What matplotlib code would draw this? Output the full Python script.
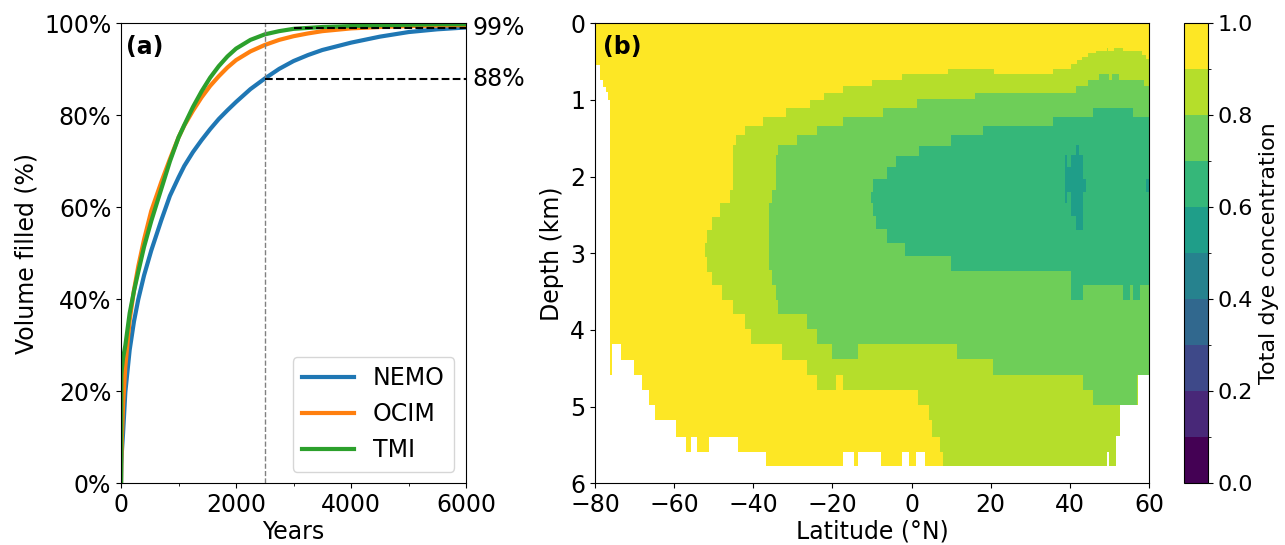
import matplotlib.pyplot as plt
import matplotlib.colors
import matplotlib.cm
import matplotlib.ticker as mticker
import numpy as np

plt.rcParams['font.size'] = 17

# ---- panel (a): volume filled vs years ----
YEARS = [0, 5, 15, 35, 75, 150, 225, 300, 400, 525, 700, 850, 1000, 1100, 1250, 1400, 1550,
         1700, 1850, 2000, 2250, 2500, 2750, 3000, 3250, 3500, 4000, 4500, 5000, 5500, 6000]
NEMO = [0.0, 0.04, 0.07, 0.109, 0.199, 0.29, 0.352, 0.40, 0.452, 0.506, 0.572, 0.625, 0.665,
        0.69, 0.72, 0.746, 0.77, 0.792, 0.811, 0.829, 0.857, 0.88, 0.901, 0.918, 0.931, 0.942,
        0.958, 0.971, 0.981, 0.987, 0.991]
OCIM = [0.0, 0.05, 0.10, 0.17, 0.255, 0.355, 0.42, 0.472, 0.53, 0.592, 0.655, 0.705, 0.752,
        0.778, 0.81, 0.839, 0.864, 0.885, 0.904, 0.92, 0.939, 0.953, 0.964, 0.972, 0.978, 0.983,
        0.989, 0.992, 0.994, 0.995, 0.996]
TMI = [0.0, 0.235, 0.25, 0.272, 0.30, 0.37, 0.418, 0.46, 0.514, 0.57, 0.64, 0.70, 0.752, 0.779,
       0.818, 0.852, 0.882, 0.907, 0.928, 0.945, 0.964, 0.976, 0.983, 0.988, 0.99, 0.992, 0.994,
       0.996, 0.997, 0.998, 0.998]
MARK_YEAR = 2500
MARK_LEVELS = [0.88, 0.99]
MARK_STARTS = [2500, 3000]
MARK_LABELS = ['88%', '99%']

# ---- panel (b): dye concentration sections (step boundaries, depth in km) ----
OCEAN_LAT = [-80, -78.7, -77.9, -77.3, -76.6, -76.2, -75.8, -73.3, -70.1, -68.0, -66.4, -64.8,
             -59.5, -57.0, -55.7, -54.1, -51.2, -43.8, -36.8, -17.4, -14.6, -13.6, -7.6, -2.5,
             -0.6, 1.1, 3.4, 49.3, 50.0, 51.8, 52.7, 57.3, 60]
OCEAN_BOTTOM = [0.54, 0.74, 0.83, 0.89, 1.0, 4.59, 4.18, 4.39, 4.59, 4.78, 4.98, 5.17, 5.39, 5.59,
                5.39, 5.59, 5.39, 5.59, 5.78, 5.59, 5.78, 5.59, 5.78, 5.59, 5.78, 5.59, 5.78, 5.59,
                5.78, 5.38, 4.98, 4.59]

LAT_90 = [-52.2, -51.8, -50.35, -48.4, -47.8, -45.9, -45.05, -44.4, -42.1, -40.65, -37.6, -32.65,
          -31.65, -26.5, -25.6, -23.8, -22.05, -19.2, -17.3, -10.1, -2.5, 1.7, 4.5, 5.1, 7.2, 8.0,
          9.3, 20.8, 35.8, 40.3, 41.7, 43.2, 44.7, 46.6, 49.3, 49.7, 50.0, 51.2, 51.8, 52.7, 53.5,
          57.3, 58.2, 59.25, 60]
TOP_90 = [2.86, 2.70, 2.52, 2.35, 2.35, 2.17, 1.59, 1.46, 1.34, 1.34, 1.22, 1.22, 1.11, 1.11, 1.0,
          1.0, 0.905, 0.905, 0.82, 0.74, 0.66, 0.66, 0.66, 0.66, 0.66, 0.66, 0.60, 0.66, 0.60, 0.535,
          0.48, 0.435, 0.39, 0.36, 0.325, 0.36, 0.36, 0.325, 0.325, 0.325, 0.36, 0.36, 0.41, 0.46]
BOT_90 = [3.05, 3.24, 3.41, 3.41, 3.61, 3.61, 3.79, 3.79, 3.99, 4.18, 4.18, 4.39, 4.39, 4.59, 4.59,
          4.78, 4.78, 4.59, 4.78, 4.78, 4.78, 4.98, 5.17, 5.39, 5.59, 5.78, 5.78, 5.78, 5.78, 5.78,
          5.78, 5.78, 5.78, 5.78, 5.59, 5.59, 5.78, 5.78, 5.38, 4.98, 4.98, 4.59, 4.59, 4.59]

LAT_80 = [-35.94, -35.2, -34.3, -33.67, -29.0, -26.5, -23.9, -20.2, -17.25, -13.6, -7.14, 1.3,
          11.4, 16.0, 20.66, 41.56, 43.25, 44.7, 45.8, 47.45, 50.0, 50.65, 52.5, 57.1, 58.74, 60]
TOP_80 = [2.35, 2.17, 1.72, 1.59, 1.46, 1.46, 1.34, 1.34, 1.22, 1.22, 1.11, 0.99, 0.99, 0.905,
          0.905, 0.82, 0.82, 0.74, 0.74, 0.66, 0.74, 0.66, 0.74, 0.74, 0.82]
BOT_80 = [3.22, 3.41, 3.61, 3.79, 3.79, 3.99, 4.18, 4.38, 4.38, 4.18, 4.18, 4.18, 4.38, 4.38,
          4.59, 4.59, 4.78, 4.78, 4.98, 4.98, 4.98, 4.98, 4.98, 4.59, 4.59]

LAT_70 = [-10.25, -9.66, -8.99, -6.3, -3.93, -1.7, 1.97, 9.97, 18.1, 35.8, 40.2, 43.25, 45.9,
          53.5, 55.2, 56.0, 57.7, 60]
TOP_70 = [2.196, 2.035, 2.035, 1.87, 1.727, 1.727, 1.597, 1.457, 1.34, 1.218, 1.218, 1.218,
          1.109, 1.109, 1.109, 1.218, 1.218]
BOT_70 = [2.34, 2.513, 2.687, 2.86, 2.86, 3.04, 3.04, 3.227, 3.227, 3.227, 3.61, 3.41, 3.41,
          3.61, 3.41, 3.61, 3.41]

LAT_60A = [38.8, 39.4, 40.3, 41.56, 42.4, 43.25, 44.0]
TOP_60A = [1.72, 1.87, 1.72, 1.59, 1.72, 2.035]
BOT_60A = [2.34, 2.20, 2.51, 2.69, 2.69, 2.196]
LAT_60B = [59.25, 60]
TOP_60B = [2.035]
BOT_60B = [2.196]

LEVELS = np.linspace(0, 1, 11)
COLORS = plt.get_cmap('viridis')(np.linspace(0, 1, 10))
CMAP = matplotlib.colors.ListedColormap(COLORS)
NORM = matplotlib.colors.BoundaryNorm(LEVELS, CMAP.N)


def stepPolygon(Lat_Edges, Top, Bottom):
    xs = np.repeat(np.asarray(Lat_Edges, dtype=float), 2)[1:-1]
    top = np.repeat(np.asarray(Top, dtype=float), 2)
    bot = np.repeat(np.asarray(Bottom, dtype=float), 2)
    return np.concatenate([xs, xs[::-1]]), np.concatenate([top, bot[::-1]])


def fillRegion(Ax, Lat_Edges, Top, Bottom, Value):
    xs, ys = stepPolygon(Lat_Edges, Top, Bottom)
    Ax.fill(xs, ys, color=CMAP(NORM(Value)), linewidth=0)


fig = plt.figure(figsize=(12.85, 5.45), dpi=100)
ax1 = fig.add_axes([0.0942, 0.1132, 0.2685, 0.8440])
ax2 = fig.add_axes([0.4630, 0.1132, 0.4311, 0.8440])
cax = fig.add_axes([0.9214, 0.1132, 0.0187, 0.8440])

# panel (a)
ax1.plot(YEARS, NEMO, color='#1f77b4', lw=3, label='NEMO')
ax1.plot(YEARS, OCIM, color='#ff7f0e', lw=3, label='OCIM')
ax1.plot(YEARS, TMI, color='#2ca02c', lw=3, label='TMI')
ax1.axvline(MARK_YEAR, color='gray', lw=1, linestyle='--')
for level, start, lab in zip(MARK_LEVELS, MARK_STARTS, MARK_LABELS):
    ax1.hlines(level, start, 6000, colors='black', lw=1.5, linestyles='--')
    ax1.text(6110, level, lab, va='center', ha='left', clip_on=False)
ax1.set_xlim(0, 6000)
ax1.set_ylim(0, 1)
ax1.xaxis.set_major_locator(mticker.MultipleLocator(2000))
ax1.xaxis.set_minor_locator(mticker.MultipleLocator(1000))
ax1.yaxis.set_major_locator(mticker.MultipleLocator(0.2))
ax1.yaxis.set_major_formatter(mticker.PercentFormatter(1.0, decimals=0))
ax1.set_xlabel('Years', labelpad=2)
ax1.set_ylabel('Volume filled (%)')
ax1.legend(loc='lower right', handlelength=2.2)
ax1.text(0.015, 0.975, '(a)', transform=ax1.transAxes, va='top', ha='left', fontweight='bold')

# panel (b)
fillRegion(ax2, OCEAN_LAT, np.zeros(len(OCEAN_BOTTOM)), OCEAN_BOTTOM, 0.95)
fillRegion(ax2, LAT_90, TOP_90, BOT_90, 0.85)
fillRegion(ax2, LAT_80, TOP_80, BOT_80, 0.75)
fillRegion(ax2, LAT_70, TOP_70, BOT_70, 0.65)
fillRegion(ax2, LAT_60A, TOP_60A, BOT_60A, 0.55)
fillRegion(ax2, LAT_60B, TOP_60B, BOT_60B, 0.55)
ax2.set_xlim(-80, 60)
ax2.set_ylim(6, 0)
ax2.xaxis.set_major_locator(mticker.MultipleLocator(20))
ax2.yaxis.set_major_locator(mticker.MultipleLocator(1))
ax2.set_xlabel('Latitude (°N)', labelpad=2)
ax2.set_ylabel('Depth (km)')
ax2.text(0.015, 0.975, '(b)', transform=ax2.transAxes, va='top', ha='left', fontweight='bold')

sm = matplotlib.cm.ScalarMappable(norm=NORM, cmap=CMAP)
cb = fig.colorbar(sm, cax=cax, ticks=np.linspace(0, 1, 6))
cb.ax.yaxis.set_minor_locator(mticker.FixedLocator(np.linspace(0.1, 0.9, 5)))
cb.ax.tick_params(labelsize=16)
cb.set_label('Total dye concentration', fontsize=16)

fig.savefig('out.png', dpi=100)
